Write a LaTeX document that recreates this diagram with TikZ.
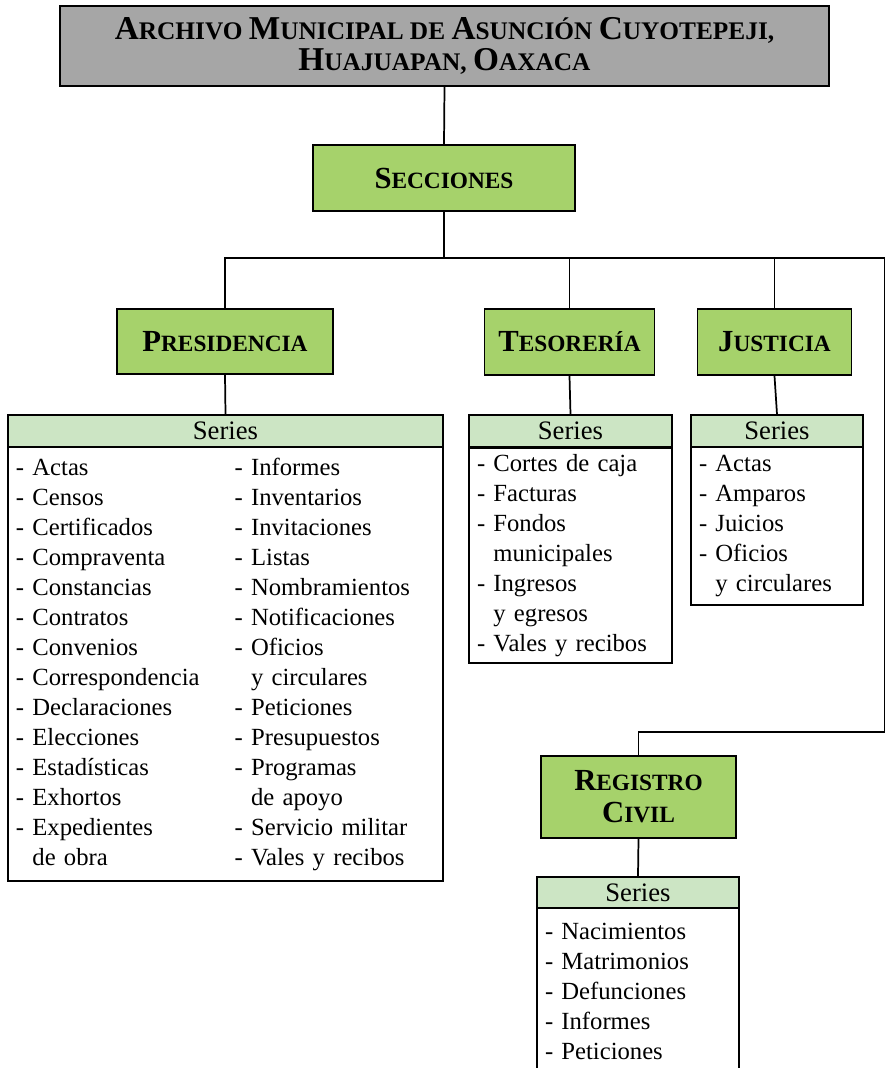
\documentclass[tikz,border=0pt]{standalone}
\usepackage{fontspec}
\setmainfont{Liberation Serif}
\usepackage{array}
\definecolor{titlegray}{HTML}{A6A6A6}
\definecolor{secgreen}{HTML}{A6D26B}
\definecolor{serielight}{HTML}{CCE5C4}
\newcommand{\capl}[1]{{\fontsize{23}{24}\selectfont #1}}
\newcommand{\capt}[1]{{\fontsize{25}{24}\selectfont #1}}
\newcommand{\sang}{\phantom{- }}
\tikzset{
	titlebox/.style={draw, line width=1.4pt, fill=titlegray, align=center, inner sep=0pt,
		font=\bfseries\fontsize{19}{23}\selectfont},
	secbox/.style={draw, line width=1.4pt, fill=secgreen, align=center, inner sep=0pt,
		font=\bfseries\fontsize{17.5}{24}\selectfont},
	seriehead/.style={draw, line width=1.2pt, fill=serielight, inner sep=0pt,
		font=\fontsize{20}{20}\selectfont},
	listbox/.style={draw, line width=1.2pt, align=left, inner xsep=6pt, inner ysep=0pt,
		font=\fontsize{18.5}{22.5}\selectfont},
	link/.style={line width=1.3pt}
}
\begin{document}
\begin{tikzpicture}[x=0.75pt,y=-0.75pt]
		\useasboundingbox (0,0) rectangle (886,1068);
		\node[titlebox, minimum width=576.75pt, minimum height=60pt] (archivo) at (444.5,46)
			{\capt{A}RCHIVO \capt{M}UNICIPAL DE \capt{A}SUNCIÓN \capt{C}UYOTEPEJI,\\ \capt{H}UAJUAPAN, \capt{O}AXACA};
		\node[secbox, minimum width=196.5pt, minimum height=49.5pt] (secciones) at (444,178) {\capl{S}ECCIONES};
		\node[secbox, minimum width=162pt, minimum height=48.75pt] (presidencia) at (225,341.5) {\capl{P}RESIDENCIA};
		\node[secbox, minimum width=127.5pt, minimum height=49.5pt] (tesoreria) at (569.5,342) {\capl{T}ESORERÍA};
		\node[secbox, minimum width=115.5pt, minimum height=49.5pt] (justicia) at (774.5,342) {\capl{J}USTICIA};
		\node[secbox, minimum width=146.25pt, minimum height=61.5pt] (registro) at (638.5,797) {\capl{R}EGISTRO\\ \capl{C}IVIL};
		% series de cada seccion
		\node[seriehead, minimum width=326.25pt, minimum height=24pt] (seriepres) at (225.5,431) {Series};
		\node[listbox, minimum width=326.25pt, minimum height=325.5pt, text width=314.25pt] (listapres) at (225.5,664) {%
			\begin{tabular}{@{}p{164pt}@{}l@{}}
			- Actas & - Informes\\
			- Censos & - Inventarios\\
			- Certificados & - Invitaciones\\
			- Compraventa & - Listas\\
			- Constancias & - Nombramientos\\
			- Contratos & - Notificaciones\\
			- Convenios & - Oficios\\
			- Correspondencia & \sang y circulares\\
			- Declaraciones & - Peticiones\\
			- Elecciones & - Presupuestos\\
			- Estadísticas & - Programas\\
			- Exhortos & \sang de apoyo\\
			- Expedientes & - Servicio militar\\
			\sang de obra & - Vales y recibos
			\end{tabular}};
		\node[seriehead, minimum width=152.25pt, minimum height=24pt] (serieteso) at (570.5,431) {Series};
		\node[listbox, minimum width=152.25pt, minimum height=161.25pt, text width=140.25pt] (listateso) at (570.5,555.5)
			{- Cortes de caja\\ - Facturas\\ - Fondos\\ \sang municipales\\ - Ingresos\\ \sang y egresos\\ - Vales y recibos};
		\node[seriehead, minimum width=129pt, minimum height=24pt] (seriejust) at (777,431) {Series};
		\node[listbox, minimum width=129pt, minimum height=118.5pt, text width=117pt] (listajust) at (777,526)
			{- Actas\\ - Amparos\\ - Juicios\\ - Oficios\\ \sang y circulares};
		\node[seriehead, minimum width=151.5pt, minimum height=23.25pt] (seriereg) at (638,892.5) {Series};
		\node[listbox, minimum width=151.5pt, minimum height=125.25pt, text width=139.5pt] (listareg) at (638,991.5)
			{- Nacimientos\\ - Matrimonios\\ - Defunciones\\ - Informes\\ - Peticiones};
		% conectores
		\coordinate (rama) at (444,258);
		\coordinate (esquina) at (884.5,258);
		\coordinate (codo) at (884.5,732);
		\draw[link] (archivo.south) -- (secciones.north);
		\draw[link] (secciones.south) -- (rama);
		\draw[link] (presidencia.north) |- (esquina) -- (codo) -| (registro.north);
		\draw[link] (tesoreria.north) -- (tesoreria.north |- esquina);
		\draw[link] (justicia.north) -- (justicia.north |- esquina);
		\draw[link] (presidencia.south) -- (seriepres.north);
		\draw[link] (tesoreria.south) -- (serieteso.north);
		\draw[link] (justicia.south) -- (seriejust.north);
		\draw[link] (registro.south) -- (seriereg.north);
	\end{tikzpicture}
\end{document}
